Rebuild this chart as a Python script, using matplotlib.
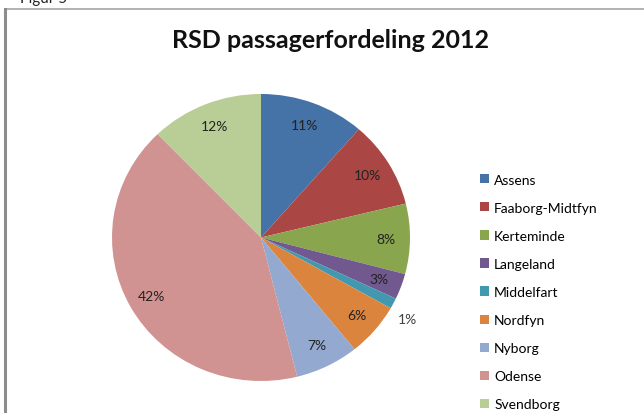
import matplotlib
matplotlib.use('Agg')
import matplotlib.pyplot as plt
from matplotlib.lines import Line2D
from matplotlib.patches import Patch

plt.rcParams['font.family'] = ['Lato', 'DejaVu Sans']

# andel af passagerer pr. kommune (procent)
kommuner = ['Assens', 'Faaborg-Midtfyn', 'Kerteminde', 'Langeland', 'Middelfart',
            'Nordfyn', 'Nyborg', 'Odense', 'Svendborg']
andele = [11.4, 9.8, 7.9, 2.9, 1.2, 6.0, 6.9, 41.7, 12.2]
farver = ['#4572A7', '#AA4643', '#89A54E', '#71588F', '#4198AF',
          '#DB843D', '#93A9CF', '#D19392', '#B9CD96']

W, H = 644, 414
fig = plt.figure(figsize=(W / 100, H / 100), dpi=100)

# ramme fra dokumentet
fig.add_artist(Line2D([5 / W, 1], [1 - 10 / H, 1 - 10 / H], color='#a6a6a6', lw=1.2,
                      transform=fig.transFigure))
fig.add_artist(Line2D([5 / W, 5 / W], [0, 1 - 10 / H], color='#8c8c8c', lw=2.2,
                      transform=fig.transFigure))
fig.text(20 / W, 1 + 1 / H, 'Figur 5', fontsize=11, va='center', ha='left', color='#222222')

fig.text(330 / W, 1 - 40 / H, 'RSD passagerfordeling 2012', fontsize=18, fontweight='bold',
         ha='center', va='center', color='#111111')

# selve lagkagen (en anelse bredere end høj, som i originalen)
cx, cy, rx, ry = 261, 238.5, 149, 143.5
ax = fig.add_axes([(cx - rx) / W, (H - cy - ry) / H, 2 * rx / W, 2 * ry / H])
wedges, texts, autotexts = ax.pie(andele, colors=farver, startangle=90, counterclock=False,
                                  autopct='%.0f%%', pctdistance=0.84,
                                  wedgeprops=dict(linewidth=0),
                                  textprops=dict(fontsize=10, color='#222222'))
# den lille skive har etiketten udenfor
autotexts[4].set_position((0.98, -0.57))
autotexts[4].set_color('#404040')
ax.set_xlim(-1, 1)
ax.set_ylim(-1, 1)
ax.set_aspect('auto')

handles = [Patch(facecolor=c, edgecolor='none') for c in farver]
fig.legend(handles, kommuner, loc='upper left', bbox_to_anchor=(474 / W, 1 - 169 / H),
           frameon=False, fontsize=10, handlelength=0.65, handleheight=0.65,
           handletextpad=0.4, labelspacing=1.16, borderaxespad=0)

fig.savefig('out.png', dpi=100)
